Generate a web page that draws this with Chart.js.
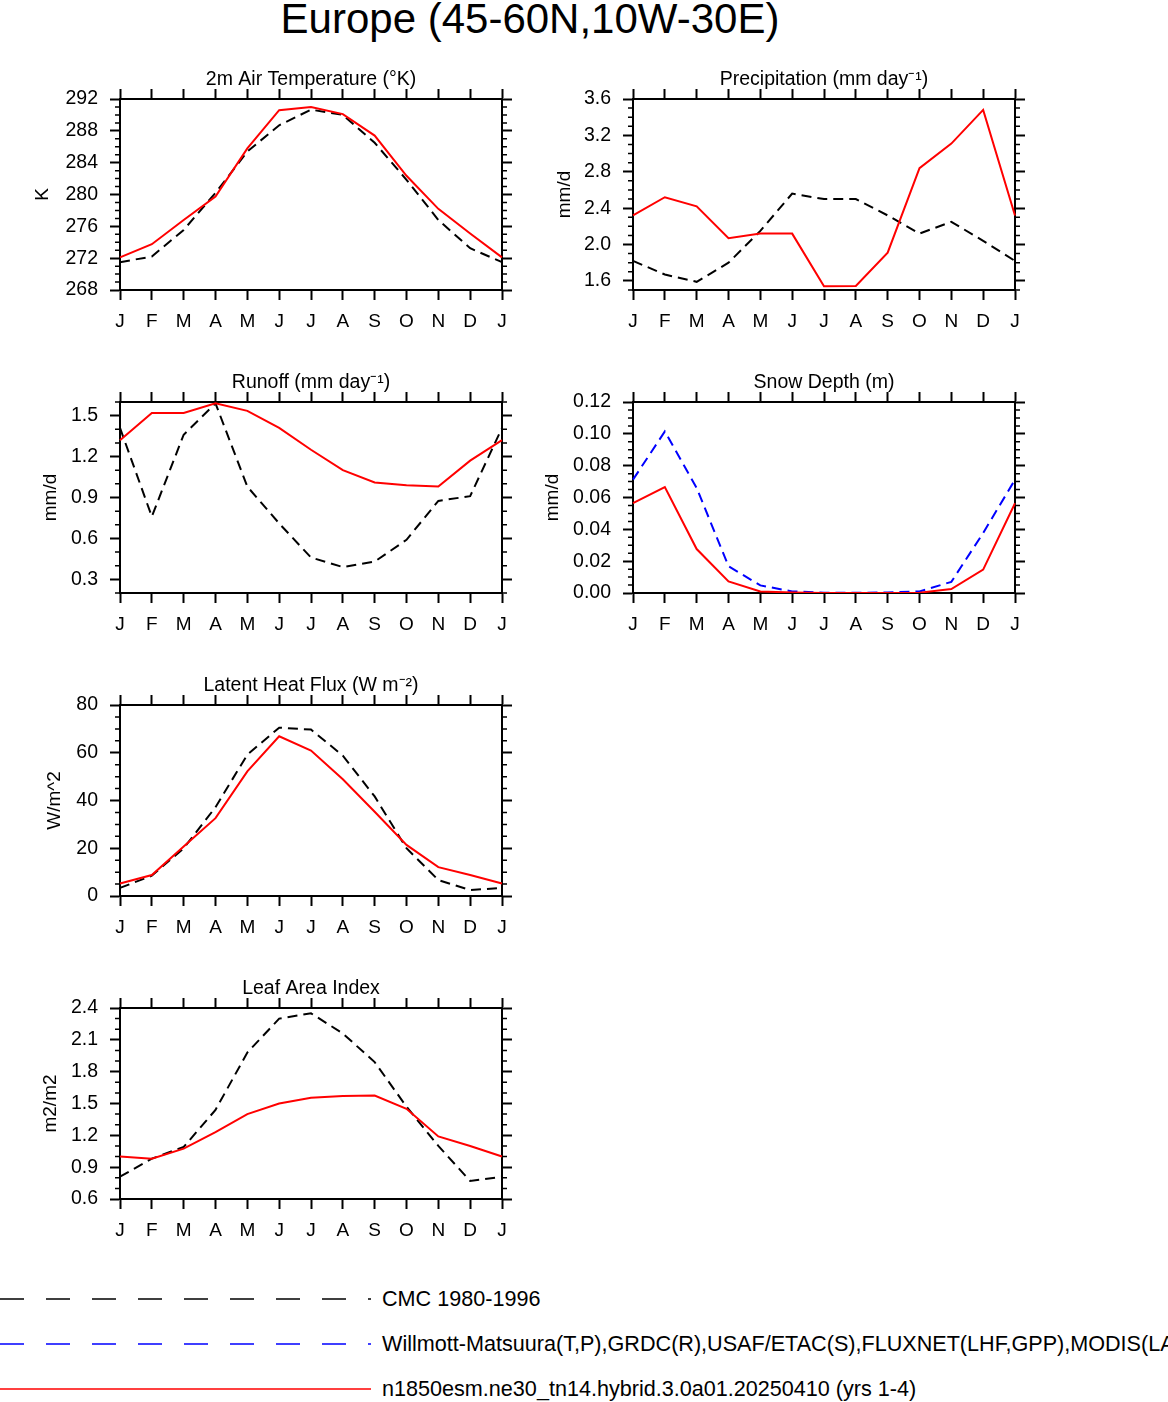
<!DOCTYPE html>
<html>
<head>
<meta charset="utf-8">
<script src="https://cdn.jsdelivr.net/npm/chart.js@4.4.1/dist/chart.umd.min.js"></script>
<style>
  html, body { margin:0; padding:0; background:#fff; }
  body { width:1168px; height:1402px; overflow:hidden; position:relative;
         font-family:'Liberation Sans', Arial, Helvetica, sans-serif; color:#000; }
  #mainTitle { position:absolute; left:0; width:1060px; top:-5px; text-align:center;
               font-size:42px; line-height:48px; white-space:nowrap; }
  canvas { position:absolute; }
  .legText { position:absolute; left:382px; font-size:21.6px; line-height:24px; white-space:nowrap; }
  #legSvg { position:absolute; left:0; top:1280px; }
</style>
</head>
<body>
<div id="mainTitle">Europe (45-60N,10W-30E)</div>

<svg id="legSvg" width="380" height="122">
  <line x1="0" y1="19" x2="371" y2="19" stroke="#000" stroke-width="1.5" stroke-dasharray="24 22"/>
  <line x1="0" y1="64" x2="371" y2="64" stroke="#0000ff" stroke-width="1.5" stroke-dasharray="24 22"/>
  <line x1="0" y1="109" x2="371" y2="109" stroke="#ff0000" stroke-width="1.5"/>
</svg>
<div class="legText" style="top:1287px">CMC 1980-1996</div>
<div class="legText" style="top:1332px">Willmott-Matsuura(T,P),GRDC(R),USAF/ETAC(S),FLUXNET(LHF,GPP),MODIS(LAI)</div>
<div class="legText" style="top:1377px">n1850esm.ne30_tn14.hybrid.3.0a01.20250410 (yrs 1-4)</div>

<script>
// ---------------- DATA ----------------
const months = ['J','F','M','A','M','J','J','A','S','O','N','D','J'];

const tempModel = [272.1, 273.75, 276.8, 279.75, 285.8, 290.6, 291.0, 290.1, 287.4, 282.35, 278.2, 275.1, 272.1];
const tempObs   = [271.5, 272.2, 275.55, 280.2, 285.4, 288.7, 290.66, 290.0, 286.5, 281.85, 276.8, 273.25, 271.5];
const tempTicks = [268, 272, 276, 280, 284, 288, 292];

const precipModel = [2.32, 2.52, 2.42, 2.07, 2.12, 2.12, 1.54, 1.545, 1.91, 2.84, 3.11, 3.48, 2.32];
const precipObs   = [1.82, 1.67, 1.59, 1.80, 2.15, 2.56, 2.50, 2.50, 2.32, 2.12, 2.25, 2.04, 1.82];
const precipTicks = [1.6, 2.0, 2.4, 2.8, 3.2, 3.6];

const runoffModel = [1.32, 1.52, 1.52, 1.59, 1.535, 1.41, 1.25, 1.10, 1.01, 0.99, 0.98, 1.17, 1.32];
const runoffObs   = [1.41, 0.76, 1.36, 1.59, 0.98, 0.71, 0.46, 0.39, 0.43, 0.59, 0.875, 0.91, 1.41];
const runoffTicks = [0.3, 0.6, 0.9, 1.2, 1.5];

const snowModel = [0.0564, 0.0666, 0.0276, 0.0073, 0.001, 0.0003, 0, 0, 0, 0.0002, 0.0025, 0.0147, 0.0564];
const snowObs   = [0.0712, 0.1015, 0.066, 0.0168, 0.0048, 0.001, 0.0002, 0.0001, 0.0003, 0.001, 0.007, 0.0377, 0.0712];
const snowCMC   = [0, 0, 0, 0, 0, 0, 0, 0, 0, 0, 0, 0, 0];
const snowTicks = [0, 0.02, 0.04, 0.06, 0.08, 0.10, 0.12];

const lhfModel = [5.2, 8.8, 20.7, 32.6, 52.2, 66.9, 60.9, 48.9, 35.3, 21.4, 12.1, 8.8, 5.2];
const lhfObs   = [3.4, 8.5, 20.0, 37.2, 59.2, 70.5, 69.7, 58.8, 41.7, 20.0, 6.7, 2.5, 3.4];
const lhfTicks = [0, 20, 40, 60, 80];

const laiModel = [1.0, 0.98, 1.075, 1.23, 1.40, 1.50, 1.555, 1.57, 1.575, 1.45, 1.19, 1.10, 1.0];
const laiObs   = [0.81, 0.98, 1.09, 1.44, 1.98, 2.30, 2.35, 2.16, 1.89, 1.47, 1.10, 0.77, 0.81];
const laiTicks = [0.6, 0.9, 1.2, 1.5, 1.8, 2.1, 2.4];

// ---------------- STYLE / LAYOUT ----------------
Chart.defaults.font.family = "'Liberation Sans', Arial, Helvetica, sans-serif";
Chart.defaults.color = '#000';

const RED = '#ff0000', BLACK = '#000000', BLUE = '#0000ff';
const DASH = [10, 6];
const RIGHT_W = 18;

const minorTickPlugin = {
  id: 'minorTicks',
  afterDraw(chart, args, opts) {
    if (!opts || !opts.step) return;
    const ys = chart.scales.y, a = chart.chartArea, ctx = chart.ctx;
    const n = Math.round((ys.max - ys.min) / opts.step);
    ctx.save();
    ctx.strokeStyle = '#000';
    ctx.lineWidth = 1.5;
    ctx.beginPath();
    for (let i = 0; i <= n; i++) {
      const v = ys.min + i * opts.step;
      if (opts.majors.some(m => Math.abs(m - v) < opts.step / 10)) continue;
      const py = ys.getPixelForValue(v);
      ctx.moveTo(a.left - 5, py); ctx.lineTo(a.left, py);
      ctx.moveTo(a.right, py); ctx.lineTo(a.right + 5, py);
    }
    ctx.stroke();
    ctx.restore();
  }
};

function makePanel(p) {
  const c = document.createElement('canvas');
  const W = p.yWidth + 382 + RIGHT_W;
  const H = 5 + 18 + 10 + 191 + 50;
  c.width = W; c.height = H;
  c.style.left = p.left + 'px';
  c.style.top = (p.frameTop - 33) + 'px';
  c.style.width = W + 'px'; c.style.height = H + 'px';
  document.body.appendChild(c);

  const gridCfg = { display: true, drawOnChartArea: false, drawTicks: true,
                    tickLength: 10, tickWidth: 2, tickColor: '#000' };
  const borderCfg = { display: true, color: '#000', width: 2 };
  const setTicks = s => { s.ticks = p.majors.map(v => ({ value: v })); };
  const lh = 19 * 1.2;

  new Chart(c, {
    type: 'line',
    data: {
      labels: months,
      datasets: p.series.map(s => ({
        data: s.data, borderColor: s.color, backgroundColor: s.color,
        borderWidth: 2, borderDash: s.dash || [], pointRadius: 0,
        tension: 0, fill: false
      }))
    },
    options: {
      responsive: false, animation: false, devicePixelRatio: 1,
      layout: { padding: { top: 5, left: 0, right: 0, bottom: 0 } },
      plugins: {
        legend: { display: false },
        tooltip: { enabled: false },
        title: { display: true, text: p.title, fullSize: false, color: '#000',
                 font: { size: 19.5, lineHeight: '18px', weight: 'normal' }, padding: 0 },
        minorTicks: { step: p.minorStep, majors: p.majors }
      },
      scales: {
        x: { type: 'category', position: 'bottom', offset: false,
             grid: gridCfg, border: borderCfg,
             ticks: { color: '#000', font: { size: 19 }, padding: 10, maxRotation: 0, autoSkip: false },
             afterFit(s) { s.height = 50; } },
        x2: { type: 'category', position: 'top', offset: false,
              grid: gridCfg, border: borderCfg,
              ticks: { display: false, autoSkip: false },
              afterFit(s) { s.height = 10; } },
        y: { type: 'linear', position: 'left', min: p.min, max: p.max,
             afterBuildTicks: setTicks,
             grid: gridCfg, border: borderCfg,
             ticks: { color: '#000', font: { size: 19.5 }, padding: 12,
                      callback: v => Number(v).toFixed(p.decimals) },
             title: { display: true, text: p.yTitle, color: '#000', font: { size: 19 },
                      padding: { top: p.yTitleX - p.left - lh / 2, bottom: 0 } },
             afterFit(s) { s.width = p.yWidth; } },
        y2: { type: 'linear', position: 'right', min: p.min, max: p.max,
              afterBuildTicks: setTicks,
              grid: gridCfg, border: borderCfg,
              ticks: { display: false },
              afterFit(s) { s.width = RIGHT_W; } }
      }
    },
    plugins: [minorTickPlugin]
  });
}

const COL_L = 0, COL_R = 515;
const ROWS = [99, 402, 705, 1008];

makePanel({ left: COL_L, yWidth: 120, frameTop: ROWS[0], title: '2m Air Temperature (\u00B0K)',
  yTitle: 'K', yTitleX: 43, min: 268, max: 292, majors: tempTicks, minorStep: 1, decimals: 0,
  series: [ { data: tempModel, color: RED }, { data: tempObs, color: BLACK, dash: DASH } ] });

makePanel({ left: COL_R, yWidth: 118, frameTop: ROWS[0], title: 'Precipitation (mm day\u207B\u00B9)',
  yTitle: 'mm/d', yTitleX: 565, min: 1.5, max: 3.6, majors: precipTicks, minorStep: 0.1, decimals: 1,
  series: [ { data: precipModel, color: RED }, { data: precipObs, color: BLACK, dash: DASH } ] });

makePanel({ left: COL_L, yWidth: 120, frameTop: ROWS[1], title: 'Runoff (mm day\u207B\u00B9)',
  yTitle: 'mm/d', yTitleX: 51, min: 0.2, max: 1.6, majors: runoffTicks, minorStep: 0.1, decimals: 1,
  series: [ { data: runoffModel, color: RED }, { data: runoffObs, color: BLACK, dash: DASH } ] });

makePanel({ left: COL_R, yWidth: 118, frameTop: ROWS[1], title: 'Snow Depth (m)',
  yTitle: 'mm/d', yTitleX: 553, min: 0, max: 0.12, majors: snowTicks, minorStep: 0.005, decimals: 2,
  series: [ { data: snowModel, color: RED }, { data: snowObs, color: BLUE, dash: DASH },
            { data: snowCMC, color: BLACK, dash: DASH } ] });

makePanel({ left: COL_L, yWidth: 120, frameTop: ROWS[2], title: 'Latent Heat Flux (W m\u207B\u00B2)',
  yTitle: 'W/m^2', yTitleX: 55, min: 0, max: 80, majors: lhfTicks, minorStep: 5, decimals: 0,
  series: [ { data: lhfModel, color: RED }, { data: lhfObs, color: BLACK, dash: DASH } ] });

makePanel({ left: COL_L, yWidth: 120, frameTop: ROWS[3], title: 'Leaf Area Index',
  yTitle: 'm2/m2', yTitleX: 51, min: 0.6, max: 2.4, majors: laiTicks, minorStep: 0.1, decimals: 1,
  series: [ { data: laiModel, color: RED }, { data: laiObs, color: BLACK, dash: DASH } ] });
</script>
</body>
</html>
